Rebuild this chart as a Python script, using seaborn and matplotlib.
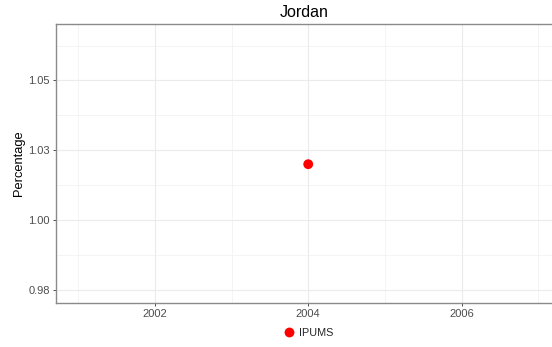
import matplotlib
matplotlib.use("Agg")
import matplotlib.pyplot as plt
from matplotlib.ticker import FixedLocator, FuncFormatter
from decimal import Decimal, ROUND_HALF_UP
import seaborn as sns
import pandas as pd

years = [2004]
values = [1.020]
sources = ["IPUMS"]

title = "Jordan"
ylabel = "Percentage"
x_major = [2002, 2004, 2006]
x_minor = [2001, 2003, 2005, 2007]
y_major = [0.975, 1.000, 1.025, 1.050]
y_minor = [0.9625, 0.9875, 1.0125, 1.0375, 1.0625]

df = pd.DataFrame({"year": years, "value": values, "source": sources})

sns.set_style("white")
plt.rcParams["font.family"] = ["Liberation Sans", "DejaVu Sans"]

fig = plt.figure(figsize=(5.52, 3.47), dpi=100)
ax = fig.add_axes([56 / 552, 44 / 347, 496 / 552, 279 / 347])

sns.scatterplot(data=df, x="year", y="value", hue="source",
                palette={"IPUMS": "#ff0000"}, s=50, edgecolor="none",
                ax=ax, legend=True, zorder=5)

ax.set_xlim(2000.71, 2007.18)
ax.set_ylim(0.9703, 1.0702)


def fmt_y(v, p):
    s = str(round(float(v), 6))
    return str(Decimal(s).quantize(Decimal("0.01"), rounding=ROUND_HALF_UP))


ax.xaxis.set_major_locator(FixedLocator(x_major))
ax.xaxis.set_minor_locator(FixedLocator(x_minor))
ax.yaxis.set_major_locator(FixedLocator(y_major))
ax.yaxis.set_minor_locator(FixedLocator(y_minor))
ax.yaxis.set_major_formatter(FuncFormatter(fmt_y))
ax.xaxis.set_major_formatter(FuncFormatter(lambda v, p: f"{int(round(v))}"))

ax.grid(which="major", color="#ebebeb", linewidth=0.8)
ax.grid(which="minor", color="#f2f2f2", linewidth=0.6)
ax.set_axisbelow(True)

ax.tick_params(axis="both", which="major", length=2.5, width=0.6, color="#333333",
               labelsize=8, labelcolor="#4d4d4d", pad=2, direction="out",
               bottom=True, left=True)
ax.tick_params(axis="both", which="minor", length=0)

for side in ["left", "bottom", "top"]:
    ax.spines[side].set_color("#8a8a8a")
    ax.spines[side].set_linewidth(1.0)
ax.spines["right"].set_visible(False)

ax.set_xlabel("")
ax.set_ylabel(ylabel, fontsize=9.3, color="black", labelpad=2.5)
ax.set_title(title, fontsize=11.5, color="black", pad=5)

handles, labels = ax.get_legend_handles_labels()
ax.get_legend().remove()
fig.legend(handles, labels, loc="center", bbox_to_anchor=(306 / 552, 1 - 333 / 347),
           frameon=False, fontsize=7.8, handletextpad=-0.1, markerscale=1.0,
           borderaxespad=0)

fig.savefig("out.png", dpi=100)
